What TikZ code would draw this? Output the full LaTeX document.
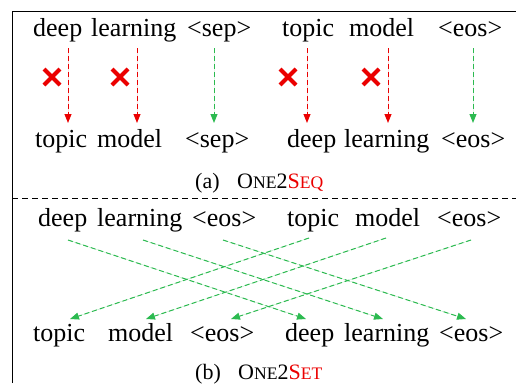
\documentclass[tikz,border=0pt]{standalone}
\usepackage{fontspec}
\setmainfont{Liberation Serif}
\usetikzlibrary{arrows.meta}
\definecolor{myred}{RGB}{235,0,0}
\definecolor{mygreen}{RGB}{44,186,80}
\newcommand{\wordsize}{\fontsize{26}{30}\selectfont}
\newcommand{\capsize}{\fontsize{22}{26}\selectfont}
\newcommand{\scs}[1]{{\fontsize{17.6}{20}\selectfont #1}}
\begin{document}
\begin{tikzpicture}[x=1pt,y=-1pt,
  word/.style={anchor=base west,inner sep=0pt,font=\wordsize},
  captext/.style={anchor=base west,inner sep=0pt,font=\capsize},
  arr/.style={dashed,dash pattern=on 5pt off 3pt,line width=1pt,-{Triangle[length=9pt,width=7pt]}},
  redarr/.style={arr,draw=myred,fill=myred},
  greenarr/.style={arr,draw=mygreen,fill=mygreen},
  cross/.style={draw=myred,line width=4pt}
]
\useasboundingbox (0,0) rectangle (516,383);
% frame
\draw[line width=1pt] (12,383) -- (12,11) -- (516,11);
\draw[line width=1pt,dashed,dash pattern=on 6pt off 4pt] (12,198) -- (516,198);

% ---- (a) ----
\node[word] (a1) at (33,36) {deep};
\node[word] (a2) at (91,36) {learning};
\node[word] (a3) at (187,36) {<sep>};
\node[word] (a4) at (282,36) {topic};
\node[word] (a5) at (349,36) {model};
\node[word] (a6) at (438,36) {<eos>};

\node[word] (b1) at (35,147) {topic};
\node[word] (b2) at (97,147) {model};
\node[word] (b3) at (185,147) {<sep>};
\node[word] (b4) at (287,147) {deep};
\node[word] (b5) at (344,147) {learning};
\node[word] (b6) at (441,147) {<eos>};

\coordinate (s1) at (68,48);  \coordinate (t1) at (68,123);
\coordinate (s2) at (137,48); \coordinate (t2) at (137,123);
\coordinate (s3) at (214,48); \coordinate (t3) at (214,123);
\coordinate (s4) at (307,48); \coordinate (t4) at (307,123);
\coordinate (s5) at (388,48); \coordinate (t5) at (388,123);
\coordinate (s6) at (473,48); \coordinate (t6) at (473,123);
\draw[redarr] (s1) -- (t1);
\draw[redarr] (s2) -- (t2);
\draw[greenarr] (s3) -- (t3);
\draw[redarr] (s4) -- (t4);
\draw[redarr] (s5) -- (t5);
\draw[greenarr] (s6) -- (t6);

\foreach \cx in {52,120,288,371}{
  \draw[cross] (\cx-8,69) -- (\cx+8,85);
  \draw[cross] (\cx-8,85) -- (\cx+8,69);
}

\node[captext] (capa1) at (195,188) {(a)};
\node[captext] (capa2) at (237,188) {O\scs{NE}2\textcolor{myred}{S\scs{EQ}}};

% ---- (b) ----
\node[word] (c1) at (38,226) {deep};
\node[word] (c2) at (97,226) {learning};
\node[word] (c3) at (192,226) {<eos>};
\node[word] (c4) at (287,226) {topic};
\node[word] (c5) at (355,226) {model};
\node[word] (c6) at (437,226) {<eos>};

\node[word] (d1) at (33,341) {topic};
\node[word] (d2) at (108,341) {model};
\node[word] (d3) at (190,341) {<eos>};
\node[word] (d4) at (285,341) {deep};
\node[word] (d5) at (344,341) {learning};
\node[word] (d6) at (439,341) {<eos>};

\coordinate (u1) at (68,240);  \coordinate (v1) at (306,319);
\coordinate (u2) at (143,240); \coordinate (v2) at (383,319);
\coordinate (u3) at (223,240); \coordinate (v3) at (466,319);
\coordinate (u4) at (309,238); \coordinate (v4) at (70,319);
\coordinate (u5) at (386,238); \coordinate (v5) at (146,319);
\coordinate (u6) at (471,240); \coordinate (v6) at (231,319);
\foreach \i in {1,...,6}{\draw[greenarr] (u\i) -- (v\i);}

\node[captext] (capb1) at (195,379) {(b)};
\node[captext] (capb2) at (238,379) {O\scs{NE}2\textcolor{myred}{S\scs{ET}}};
\end{tikzpicture}
\end{document}
